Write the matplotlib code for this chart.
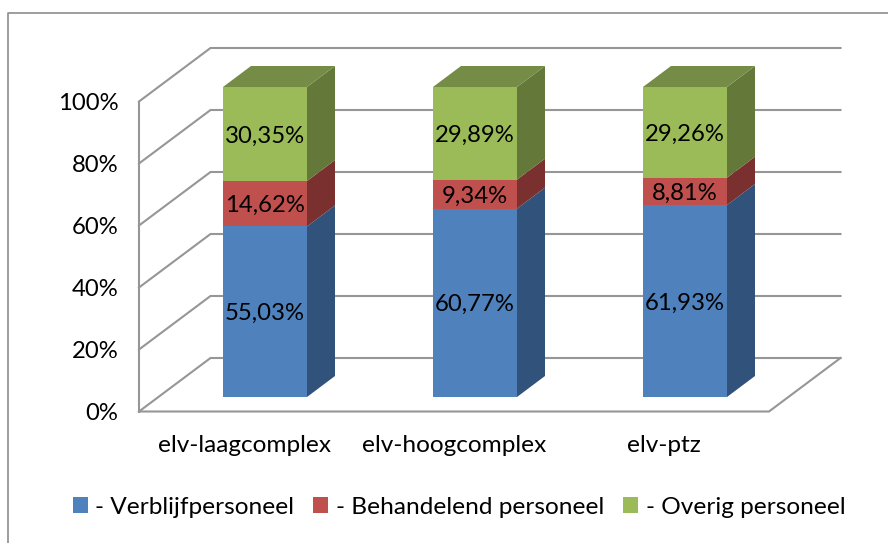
import numpy as np
import matplotlib
matplotlib.use("Agg")
import matplotlib.pyplot as plt
from matplotlib.lines import Line2D
from matplotlib.patches import Patch, Polygon

plt.rcParams['font.family'] = ['Lato', 'DejaVu Sans']

categories = ['elv-laagcomplex', 'elv-hoogcomplex', 'elv-ptz']
series_names = ['- Verblijfpersoneel', '- Behandelend personeel', '- Overig personeel']
verblijf = [55.03, 60.77, 61.93]
behandelend = [14.62, 9.34, 8.81]
overig = [30.35, 29.89, 29.26]
yticks = [0, 20, 40, 60, 80, 100]

front_colors = ['#4F81BD', '#C0504D', '#9BBB59']
side_colors = ['#31527B', '#7A302E', '#64783A']
top_color = '#748C45'
grid_color = '#969696'

W, H = 888, 543
fig = plt.figure(figsize=(W / 100, H / 100), dpi=100)
# axes = the front plane of the fake 3d box
ax = fig.add_axes([139 / W, 1 - 411.5 / H, 630 / W, 310 / H])
ax.set_xlim(-0.5, 2.5)
ax.set_ylim(0, 100)

# depth of the box, in data units (3 categories over 630px, 100% over 310px)
depth_x = 71.5 / 210
depth_y = 53.5 / 3.1
# where the bars stand inside the box
bar_w = 84 / 210
bar_dx = 21 / 210
bar_dy = 14.5 / 3.1
side_x = 28 / 210
side_y = 21 / 3.1
label_shift = 2 / 3.1

x0, x1 = ax.get_xlim()
for t in yticks:
	ax.plot([x0, x0 + depth_x, x1 + depth_x], [t, t + depth_y, t + depth_y],
		color=grid_color, lw=1.5, clip_on=False, zorder=1, solid_joinstyle='miter')
ax.plot([x0, x0], [0, 100], color=grid_color, lw=1.5, clip_on=False, zorder=1)
ax.plot([x0, x1, x1 + depth_x], [0, 0, depth_y], color=grid_color, lw=1.5,
	clip_on=False, zorder=1, solid_joinstyle='miter')

for i in range(len(categories)):
	left = i - bar_w / 2 + bar_dx
	right = left + bar_w
	bottom = bar_dy
	for j, vals in enumerate([verblijf, behandelend, overig]):
		v = vals[i]
		ax.add_patch(Polygon([[left, bottom], [right, bottom], [right, bottom + v], [left, bottom + v]],
			closed=True, fc=front_colors[j], ec='none', clip_on=False, zorder=3))
		ax.add_patch(Polygon([[right, bottom], [right + side_x, bottom + side_y],
			[right + side_x, bottom + v + side_y], [right, bottom + v]],
			closed=True, fc=side_colors[j], ec='none', clip_on=False, zorder=3))
		ax.text(i + bar_dx, bottom + v / 2 - label_shift, ('%.2f%%' % v).replace('.', ','),
			ha='center', va='center', fontsize=17.2, color='black', zorder=5)
		bottom += v
	ax.add_patch(Polygon([[left, bottom], [right, bottom], [right + side_x, bottom + side_y],
		[left + side_x, bottom + side_y]], closed=True, fc=top_color, ec='none', clip_on=False, zorder=3))

for s in ax.spines.values():
	s.set_visible(False)
ax.patch.set_visible(False)
ax.set_yticks(yticks)
ax.set_yticklabels(['%d%%' % t for t in yticks], fontsize=17.2)
ax.set_xticks(range(len(categories)))
ax.set_xticklabels(categories, fontsize=17.6)
ax.tick_params(axis='both', length=0)
ax.tick_params(axis='y', pad=15)
ax.tick_params(axis='x', pad=17)

handles = [Patch(fc=c, ec='none') for c in front_colors]
fig.legend(handles, series_names, ncol=3, frameon=False, fontsize=17.6, loc='center',
	bbox_to_anchor=(459 / W, 1 - 507 / H), handlelength=0.61, handleheight=0.61,
	handletextpad=0.3, columnspacing=0.8)

# outer chart frame, cut off at the right and bottom edge of the picture
fig.add_artist(Line2D([8 / W, 8 / W, 1], [0, 1 - 12.5 / H, 1 - 12.5 / H], color='#8C8C8C', lw=1.2))

fig.savefig('out.png', dpi=100)
